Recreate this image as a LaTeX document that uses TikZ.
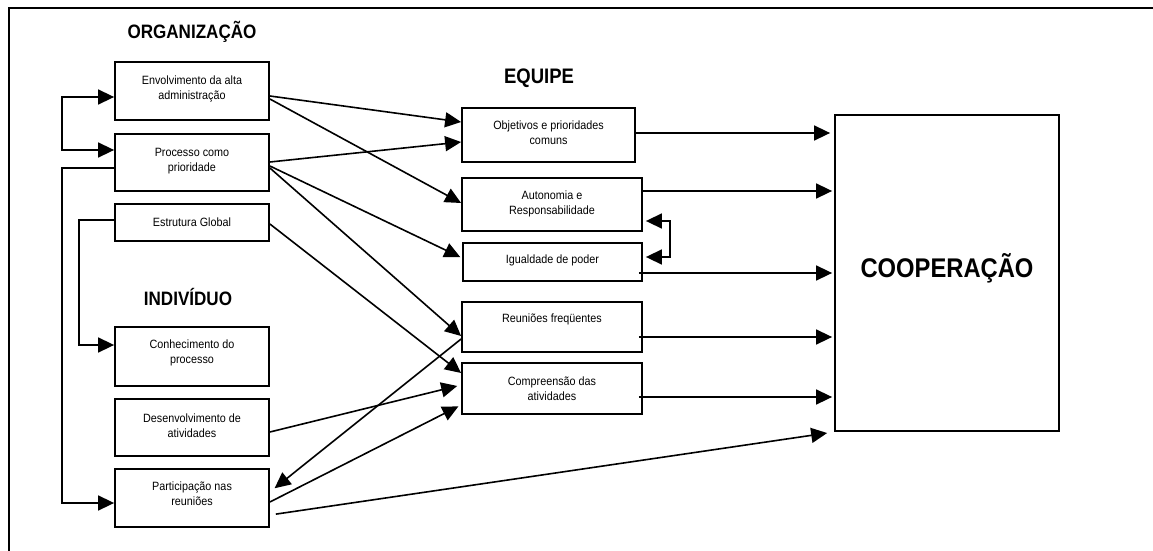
\documentclass[tikz,border=0pt]{standalone}
\usepackage{fontspec}
\setmainfont{Liberation Sans}
\newfontfamily\headfont[FakeStretch=0.88]{Liberation Sans}
\newfontfamily\boxfont[FakeStretch=0.9]{Liberation Sans}
\usetikzlibrary{arrows.meta}
\begin{document}
\begin{tikzpicture}[x=1pt,y=-1pt,
  box/.style={draw, rectangle, line width=1.8pt, inner sep=0pt},
  boxtext/.style={font=\boxfont\fontsize{12}{15}\selectfont, align=center},
  heading/.style={font=\headfont\bfseries\fontsize{#1}{#1}\selectfont, inner sep=0pt},
  link/.style={line width=1.6pt, line join=miter},
  tipped/.style={link, -{Triangle[length=16pt,width=15pt]}},
  twotipped/.style={link, {Triangle[length=16pt,width=15pt]}-{Triangle[length=16pt,width=15pt]}},
]
\useasboundingbox (0,0) rectangle (1153,551);

% page frame
\draw[line width=1.5pt] (9,551) -- (9,8) -- (1153,8);

% group headings
\node[heading=19.4] (h-org) at (192,32) {ORGANIZAÇÃO};
\node[heading=21] (h-equ) at (539,78) {EQUIPE};
\node[heading=19.4] (h-ind) at (188,297) {INDIVÍDUO};

% organisation
\node[box, minimum width=154pt, minimum height=58pt,
  label={[boxtext, yshift=2pt]center:{Envolvimento da alta\\administração}}] (env) at (192,91) {};
\node[box, minimum width=154pt, minimum height=57pt,
  label={[boxtext, yshift=1.5pt]center:{Processo como\\prioridade}}] (proc) at (192,162.5) {};
\node[box, minimum width=154pt, minimum height=37pt,
  label={[boxtext]center:{Estrutura Global}}] (est) at (192,222.5) {};

% individual
\node[box, minimum width=154pt, minimum height=59pt,
  label={[boxtext, yshift=3.5pt]center:{Conhecimento do\\processo}}] (con) at (192,356.5) {};
\node[box, minimum width=154pt, minimum height=57pt,
  label={[boxtext, yshift=2pt]center:{Desenvolvimento de\\atividades}}] (des) at (192,427.5) {};
\node[box, minimum width=154pt, minimum height=58pt,
  label={[boxtext, yshift=4pt]center:{Participação nas\\reuniões}}] (par) at (192,498) {};

% team
\node[box, minimum width=173pt, minimum height=54pt,
  label={[boxtext, yshift=2.5pt]center:{Objetivos e prioridades\\comuns}}] (obj) at (548.5,135) {};
\node[box, minimum width=180pt, minimum height=53pt,
  label={[boxtext, yshift=1pt]center:{Autonomia e\\Responsabilidade}}] (aut) at (552,204.5) {};
\node[box, minimum width=179pt, minimum height=38pt,
  label={[boxtext, yshift=2pt]center:{Igualdade de poder}}] (igu) at (552.5,262) {};
\node[box, minimum width=180pt, minimum height=50pt,
  label={[boxtext, yshift=8pt]center:{Reuniões freqüentes}}] (reu) at (552,327) {};
\node[box, minimum width=180pt, minimum height=51pt,
  label={[boxtext]center:{Compreensão das\\atividades}}] (com) at (552,388.5) {};

% result
\node[box, minimum width=224pt, minimum height=316pt,
  label={[heading=27, yshift=5pt]center:{COOPERAÇÃO}}] (coop) at (947,273) {};

% feedback brackets
\draw[twotipped] (env.west |- 0,97) -| (62,150) -- (proc.west |- 0,150);
\draw[twotipped, shorten <=3pt, shorten >=3pt] (aut.east |- 0,221) -| (670,257) -- (igu.east |- 0,257);

% organisation to individual
\draw[tipped] (proc.west |- 0,168) -| (62,503) -- (par.west |- 0,503);
\draw[tipped] (est.west |- 0,220) -| (79,345) -- (con.west |- 0,345);

% organisation to team
\draw[tipped] (env.east |- 0,96) -- (obj.west |- 0,122);
\draw[tipped] (env.east |- 0,99) -- (aut.west |- 0,203);
\draw[tipped] (proc.east |- 0,162) -- (obj.west |- 0,142);
\draw[tipped, shorten >=2pt] (proc.east |- 0,166) -- (igu.west |- 0,258);
\draw[tipped] (proc.east |- 0,168) -- (reu.west |- 0,336);
\draw[tipped] (est.east |- 0,224) -- (com.west |- 0,373);

% individual and team
\draw[tipped, shorten >=4pt] (des.east |- 0,432) -- (com.west |- 0,385);
\draw[tipped, shorten >=3pt] (par.east |- 0,502) -- (com.west |- 0,405);
\draw[tipped, shorten >=6pt] (reu.west |- 0,339) -- (par.east |- 0,492);

% everything into cooperation
\draw[tipped, shorten >=4pt] (obj.east |- 0,133) -- (coop.west |- 0,133);
\draw[tipped, shorten >=2pt] (aut.east |- 0,191) -- (coop.west |- 0,191);
\draw[tipped, shorten <=-4pt, shorten >=2pt] (igu.east |- 0,273) -- (coop.west |- 0,273);
\draw[tipped, shorten <=-4pt, shorten >=2pt] (reu.east |- 0,337) -- (coop.west |- 0,337);
\draw[tipped, shorten <=-4pt, shorten >=2pt] (com.east |- 0,397) -- (coop.west |- 0,397);
\draw[tipped, shorten <=6pt, shorten >=7pt] (par.east |- 0,515) -- (coop.west |- 0,432);
\end{tikzpicture}
\end{document}
